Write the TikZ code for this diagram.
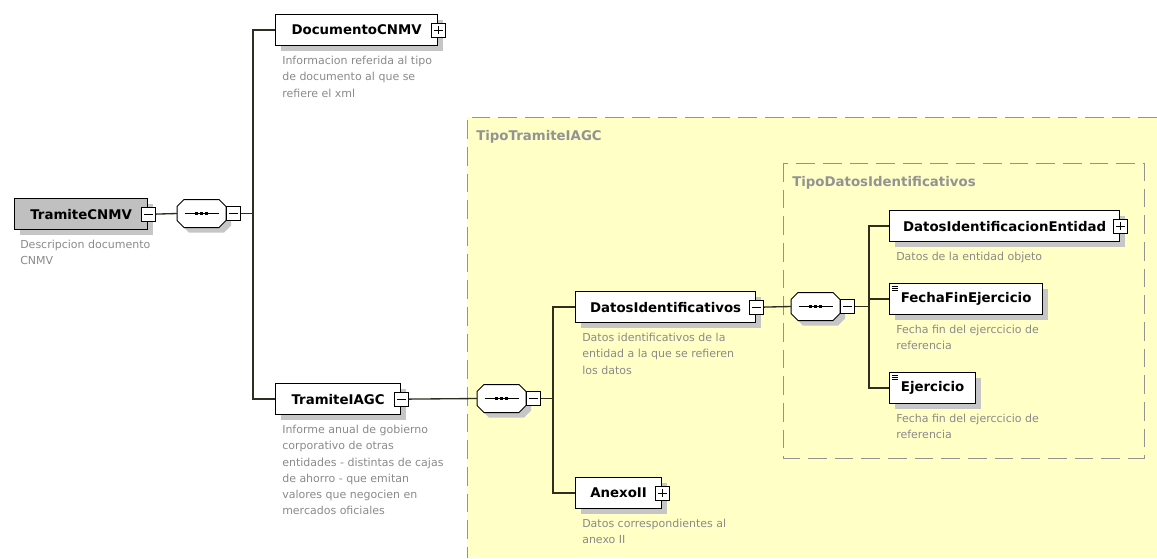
\documentclass[tikz,border=0pt]{standalone}
\usepackage{fontspec}
\setmainfont{DejaVu Sans}
\usepackage{tikz}
\usetikzlibrary{shadows}

\definecolor{xsdyellow}{HTML}{FFFFC6}
\definecolor{framegray}{HTML}{939393}
\definecolor{descgray}{HTML}{8A8A8A}
\definecolor{rootgray}{HTML}{C0C0C0}
\definecolor{shadegray}{HTML}{C6C6C6}
\definecolor{linedark}{HTML}{2E2E20}

\tikzset{
  elem/.style={draw=black, line width=0.9pt, fill=white, anchor=north west,
    minimum height=23.25pt, inner sep=0pt, font=\fontsize{10}{12}\selectfont\bfseries,
    copy shadow={shadow xshift=3.75pt, shadow yshift=-3.75pt, draw=none, fill=shadegray}},
  rootelem/.style={elem, fill=rootgray},
  simpleelem/.style={elem, path picture={
      \draw[line width=0.5pt] ([shift={(2pt,-2pt)}]path picture bounding box.north west) -- ++(4.5pt,0)
        ([shift={(2pt,-3.4pt)}]path picture bounding box.north west) -- ++(4.5pt,0)
        ([shift={(2pt,-4.8pt)}]path picture bounding box.north west) -- ++(4.5pt,0);}},
  desc/.style={anchor=north west, inner sep=0pt, align=left, text=descgray,
    font=\fontsize{8.25}{12.2}\selectfont},
  frametitle/.style={anchor=north west, inner sep=0pt, text=framegray,
    font=\fontsize{10}{12}\selectfont\bfseries},
  togbox/.style={draw=black, line width=0.75pt, fill=white, minimum size=10.5pt, inner sep=0pt},
  minusbox/.style={togbox, path picture={
      \draw[line width=0.7pt] ([xshift=2pt]path picture bounding box.west) -- ([xshift=-2pt]path picture bounding box.east);}},
  plusbox/.style={togbox, path picture={
      \draw[line width=0.7pt] ([xshift=2pt]path picture bounding box.west) -- ([xshift=-2pt]path picture bounding box.east)
        ([yshift=-2pt]path picture bounding box.north) -- ([yshift=2pt]path picture bounding box.south);}},
  % sequence compositor: octagon with a line and three dots
  seqicon/.pic={
    \fill[shadegray, shift={(5,5)}] (-24.5,-7) -- (-17.5,-14) -- (17.5,-14) -- (24.5,-7)
      -- (24.5,7) -- (17.5,14) -- (-17.5,14) -- (-24.5,7) -- cycle;
    \filldraw[fill=white, draw=black, line width=0.75pt] (-24.5,-7) -- (-17.5,-14) -- (17.5,-14) -- (24.5,-7)
      -- (24.5,7) -- (17.5,14) -- (-17.5,14) -- (-24.5,7) -- cycle;
    \draw[line width=0.9pt] (-17,0) -- (17,0);
    \foreach \d in {-5,0,5}
      \fill (\d-1.6,-1.6) rectangle (\d+1.6,1.6);
    \coordinate (-w) at (-24.5,0);
    \coordinate (-e) at (24.5,0);
  },
  conn/.style={draw=linedark, line width=1pt},
  xsdframe/.style={draw=framegray, line width=0.75pt, dash pattern=on 14pt off 6pt}
}

\begin{document}
\begin{tikzpicture}[x=0.75pt, y=-0.75pt]
  \useasboundingbox (0,0) rectangle (1157,558);

  % complex type frames
  \fill[xsdyellow] (467,117) rectangle (1157,558);
  \draw[xsdframe] (1157,117) -- (467,117) -- (467,558);
  \draw[xsdframe] (783,163) rectangle (1144,458);
  \node[frametitle] (ttitle) at (476,130) {TipoTramiteIAGC};
  \node[frametitle] (dtitle) at (792,176) {TipoDatosIdentificativos};

  % root element
  \node[rootelem, minimum width=99.75pt] (tcnmv) at (14,198) {TramiteCNMV};
  \node[minusbox] (tcnmvm) at (tcnmv.east) {};
  \node[desc] (tcnmvd) at (20,240) {Descripcion documento\\CNMV};

  \pic (seqa) at (201.5,213.5) {seqicon};
  \node[minusbox, anchor=west] (seqam) at (seqa-e) {};
  \coordinate (ta) at (253,213.5);

  % children of TramiteCNMV
  \node[elem, minimum width=121.5pt] (dcnmv) at (275,14) {DocumentoCNMV};
  \node[plusbox] (dcnmvp) at (dcnmv.east) {};
  \node[desc] (dcnmvd) at (282,56) {Informacion referida al tipo\\de documento al que se\\refiere el xml};

  \node[elem, minimum width=93.75pt] (tiagc) at (275,383) {TramiteIAGC};
  \node[minusbox] (tiagcm) at (tiagc.east) {};
  \node[desc] (tiagcd) at (282,425) {Informe anual de gobierno\\corporativo de otras\\entidades - distintas de cajas\\de ahorro - que emitan\\valores que negocien en\\mercados oficiales};

  \pic (seqb) at (501.5,398.5) {seqicon};
  \node[minusbox, anchor=west] (seqbm) at (seqb-e) {};
  \coordinate (tb) at (553,398.5);

  % children of TramiteIAGC
  \node[elem, minimum width=135pt] (datid) at (575,291) {DatosIdentificativos};
  \node[minusbox] (datidm) at (datid.east) {};
  \node[desc] (datidd) at (582,333) {Datos identificativos de la\\entidad a la que se refieren\\los datos};

  \node[elem, minimum width=64.5pt] (anexo) at (575,477) {AnexoII};
  \node[plusbox] (anexop) at (anexo.east) {};
  \node[desc] (anexod) at (582,519) {Datos correspondientes al\\anexo II};

  \pic (seqc) at (815.5,306.5) {seqicon};
  \node[minusbox, anchor=west] (seqcm) at (seqc-e) {};
  \coordinate (tc) at (869,306.5);

  % children of DatosIdentificativos
  \node[elem, minimum width=172.5pt] (dient) at (889,210) {DatosIdentificacionEntidad};
  \node[plusbox] (dientp) at (dient.east) {};
  \node[desc] (dientd) at (896,252) {Datos de la entidad objeto};

  \node[simpleelem, minimum width=114.75pt] (ffej) at (889,283) {FechaFinEjercicio};
  \node[desc] (ffejd) at (896,325) {Fecha fin del ejerccicio de\\referencia};

  \node[simpleelem, minimum width=64.5pt] (ejer) at (889,372) {Ejercicio};
  \node[desc] (ejerd) at (896,414) {Fecha fin del ejerccicio de\\referencia};

  % connectors
  \draw[conn] (tcnmvm.east) -- (seqa-w);
  \draw[conn] (seqam.east) -- (ta);
  \draw[conn] (ta) |- (dcnmv.west);
  \draw[conn] (ta) |- (tiagc.west);

  \draw[conn] (tiagcm.east) -- (seqb-w);
  \draw[conn] (seqbm.east) -- (tb);
  \draw[conn] (tb) |- (datid.west);
  \draw[conn] (tb) |- (anexo.west);

  \draw[conn] (datidm.east) -- (seqc-w);
  \draw[conn] (seqcm.east) -- (tc);
  \draw[conn] (tc) |- (dient.west);
  \draw[conn] (tc) |- (ffej.west);
  \draw[conn] (tc) |- (ejer.west);
\end{tikzpicture}
\end{document}
